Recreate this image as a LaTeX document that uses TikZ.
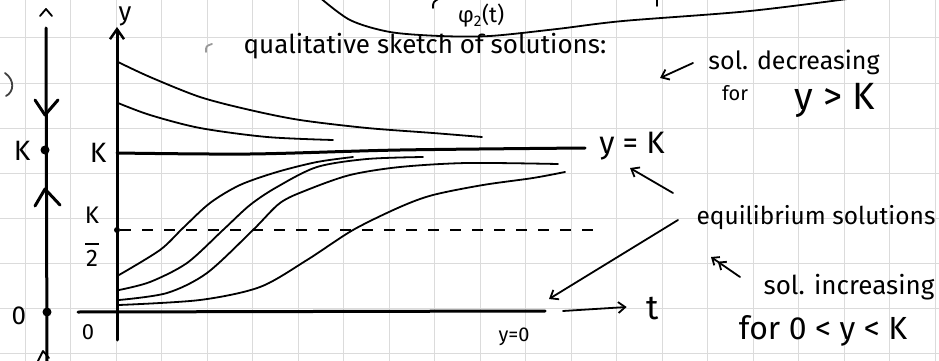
\documentclass[tikz,border=0pt]{standalone}
\usepackage{fontspec}
\setmainfont{Fira Sans}
\usetikzlibrary{arrows.meta}
\begin{document}
\begin{tikzpicture}[x=1pt,y=-1pt,
  pen/.style={line width=1.8pt, line cap=round, line join=round},
  heavypen/.style={line width=3pt, line cap=round, line join=round},
  gridline/.style={draw=black!14, line width=1pt},
  lbl/.style={inner sep=0pt, font=\fontsize{#1}{#1}\selectfont},
  lbl/.default=18,
  arr/.style={pen, -{Straight Barb[length=7pt,width=11pt,line width=1.8pt]}},
  darr/.style={pen, -{Straight Barb[length=6pt,width=10pt,line width=1.8pt] Straight Barb[length=6pt,width=10pt,line width=1.8pt]}},
  dot/.style={circle, fill=black, inner sep=0pt, minimum size=9pt}
]
\useasboundingbox (0,0) rectangle (939,361);
\clip (0,0) rectangle (939,361);
\fill[white] (0,0) rectangle (939,361);
% grid paper
\foreach \gx in {25,70.5,...,940} \draw[gridline] (\gx,0) -- (\gx,361);
\foreach \gy in {38,83,...,361} \draw[gridline] (0,\gy) -- (939,\gy);

% ---- phase line (left) ----
\coordinate (pltop) at (46,28);
\coordinate (plbot) at (47,361);
\draw[heavypen] (pltop) -- (plbot);
\draw[pen] (40,16) -- (46,9) -- (52,16);
\draw[heavypen] (35,100) -- (45,115) -- (58,100);
\draw[heavypen] (35,206) -- (45,189) -- (60,205);
\node[dot] (plK) at (45,150) {};
\node[dot] (pl0) at (47,312) {};
\node[lbl=28] (plKl) at (22,151) {K};
\node[lbl=26] (pl0l) at (19,316) {0};
\draw[pen, black!75] (5,73) .. controls (15,80) and (14,92) .. (6,96);
\draw[pen] (38,361) -- (43,351) -- (49,358);

% ---- axes ----
\coordinate (ybot) at (117,340);
\coordinate (ytop) at (117,27);
\draw[heavypen, -{Straight Barb[length=10pt,width=14pt,line width=2.5pt]}] (ybot) -- (ytop);
\node[lbl=26] (ylab) at (125,16) {y};
\node[lbl=28] (Klab) at (98,153) {K};
\node[lbl=24, align=center] (K2lab) at (92,237) {K\\[-3pt]\rule{14pt}{1.8pt}\\[-2pt]2};
\node[lbl=22] (zlab) at (88,332) {0};

% equilibrium y=K
\draw[heavypen] plot[smooth] coordinates {(117,153) (250,154) (400,150) (585,148)};
\node[lbl=31] (yK) at (632,146) {y = K};
% equilibrium y=0
\coordinate (z0) at (78,312);
\coordinate (z1) at (545,311);
\draw[heavypen] (z0) -- (z1);
\node[lbl=20] (y0) at (514,337) {y=0};
% t arrow
\node[lbl=34] (tlab) at (653,309) {t};
\coordinate (ts) at (563,311);
\draw[arr] (ts) -- ([xshift=-20pt,yshift=2pt]tlab.west);
% K/2 dashed
\node[dot, minimum size=6pt] (Khalf) at (117,230) {};
\coordinate (Khend) at (593,230);
\draw[line width=1.4pt, dash pattern=on 11pt off 11pt] (Khalf) -- (Khend);

% decreasing solutions
\draw[pen] plot[smooth] coordinates {(118,62) (150,77) (200,97) (250,110) (300,120) (367,128) (433,133) (482,137)};
\draw[pen] plot[smooth] coordinates {(118,103) (150,115) (200,128) (267,137) (333,140)};
% increasing solutions
\draw[pen] plot[smooth] coordinates {(119,275) (160,250) (183,228) (210,203) (240,185) (277,172) (317,162) (353,157)};
\draw[pen] plot[smooth] coordinates {(119,290) (150,282) (187,263) (223,230) (250,205) (277,187) (317,167) (367,159) (423,157)};
\draw[pen] plot[smooth] coordinates {(119,300) (167,293) (207,273) (253,230) (280,203) (307,190) (350,175) (400,167) (467,163) (558,164)};
\draw[pen] plot[smooth] coordinates {(119,305) (200,300) (260,287) (307,260) (353,230) (400,207) (433,195) (483,185) (533,178) (565,172)};

% ---- top fragment ----
\draw[pen] plot[smooth] coordinates {(318,-4) (350,20) (390,32) (440,36) (490,36) (557,29) (623,21) (750,11) (870,-4)};
\node[lbl=22] (phi) at (481,16) {φ\textsubscript{2}(t)};
\draw[pen] (440,-2) .. controls (433,2) .. (433,8);
\draw[pen] (657,-2) -- (657,6);
\node[lbl=26] (title) at (425,46) {qualitative sketch of solutions:};
\draw[pen, black!40] (212,44) .. controls (206,46) .. (206,52);

% ---- annotations ----
\node[lbl=25] (sdec) at (794,62) {sol. decreasing};
\node[lbl=20] (for1) at (735,93) {for};
\node[lbl=38] (ygK) at (835,100) {y > K};
\coordinate (sdecs) at (693,63);
\coordinate (sdece) at (660,78);
\draw[arr] (sdecs) -- (sdece);

\node[lbl=24.5] (equi) at (816,218) {equilibrium solutions};
\coordinate (e1s) at (673,193);
\coordinate (e1e) at (630,168);
\draw[arr] (e1s) -- (e1e);
\coordinate (e2s) at (678,220);
\coordinate (e2e) at (549,299);
\draw[arr] (e2s) -- (e2e);

\node[lbl=26] (sinc) at (849,287) {sol. increasing};
\coordinate (incs) at (740,277);
\coordinate (ince) at (711,257);
\draw[darr] (incs) -- (ince);
\node[lbl=32] (for2) at (823,331) {for 0 < y < K};
\end{tikzpicture}
\end{document}
